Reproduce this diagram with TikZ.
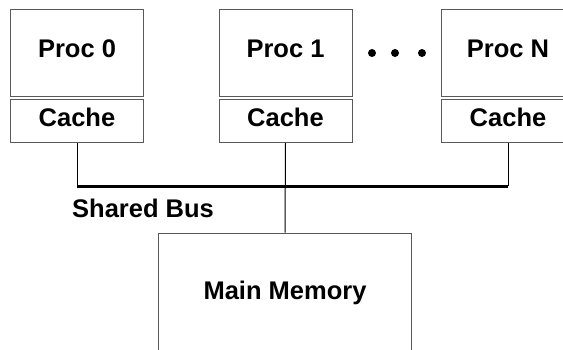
\documentclass[tikz,border=0pt]{standalone}
\usepackage{fontspec}
\setmainfont{Liberation Sans}
\usetikzlibrary{positioning}

\begin{document}
\begin{tikzpicture}[x=1pt, y=-1pt,
    box/.style = {draw=black!65, line width=1pt, minimum width=133pt, inner sep=0pt,
                  font=\fontsize{25.5}{30}\selectfont\bfseries, text depth=8pt},
    proc/.style = {box, minimum height=87pt},
    cache/.style = {box, minimum height=43pt},
    wire/.style = {draw, line width=1pt},
    dot/.style = {fill, circle, inner sep=0pt, minimum size=8pt}]
    \useasboundingbox (0,0) rectangle (563,349);
    \clip (0,0) rectangle (563,349);
    % processors and their caches
    \node[proc] (p0) at (77,53) {Proc 0};
    \node[cache] (c0) [below=2pt of p0] {Cache};
    \node[proc] (p1) at (285.5,53) {Proc 1};
    \node[cache] (c1) [below=2pt of p1] {Cache};
    \node[proc] (pN) at (508,53) {Proc N};
    \node[cache] (cN) [below=2pt of pN] {Cache};
    \foreach \x [count=\i] in {372,395,422}
        \node[dot] (dot\i) at (\x,53) {};
    % bus
    \coordinate (busl) at (77,186);
    \coordinate (busr) at (508,186);
    \draw[line width=3pt] (busl) -- (busr);
    \draw[wire] (c0.south) -- (busl);
    \draw[wire] (cN.south) -- (busr);
    \node[font=\fontsize{25.5}{30}\selectfont\bfseries, inner sep=0pt, anchor=west] (busname) at (72,208) {Shared Bus};
    % memory
    \node[box, anchor=north, minimum width=253pt, minimum height=130pt, text depth=15pt] (mem) at (285,232.5) {Main Memory};
    \draw[wire] (c1.south) -- (mem.north);
\end{tikzpicture}
\end{document}
